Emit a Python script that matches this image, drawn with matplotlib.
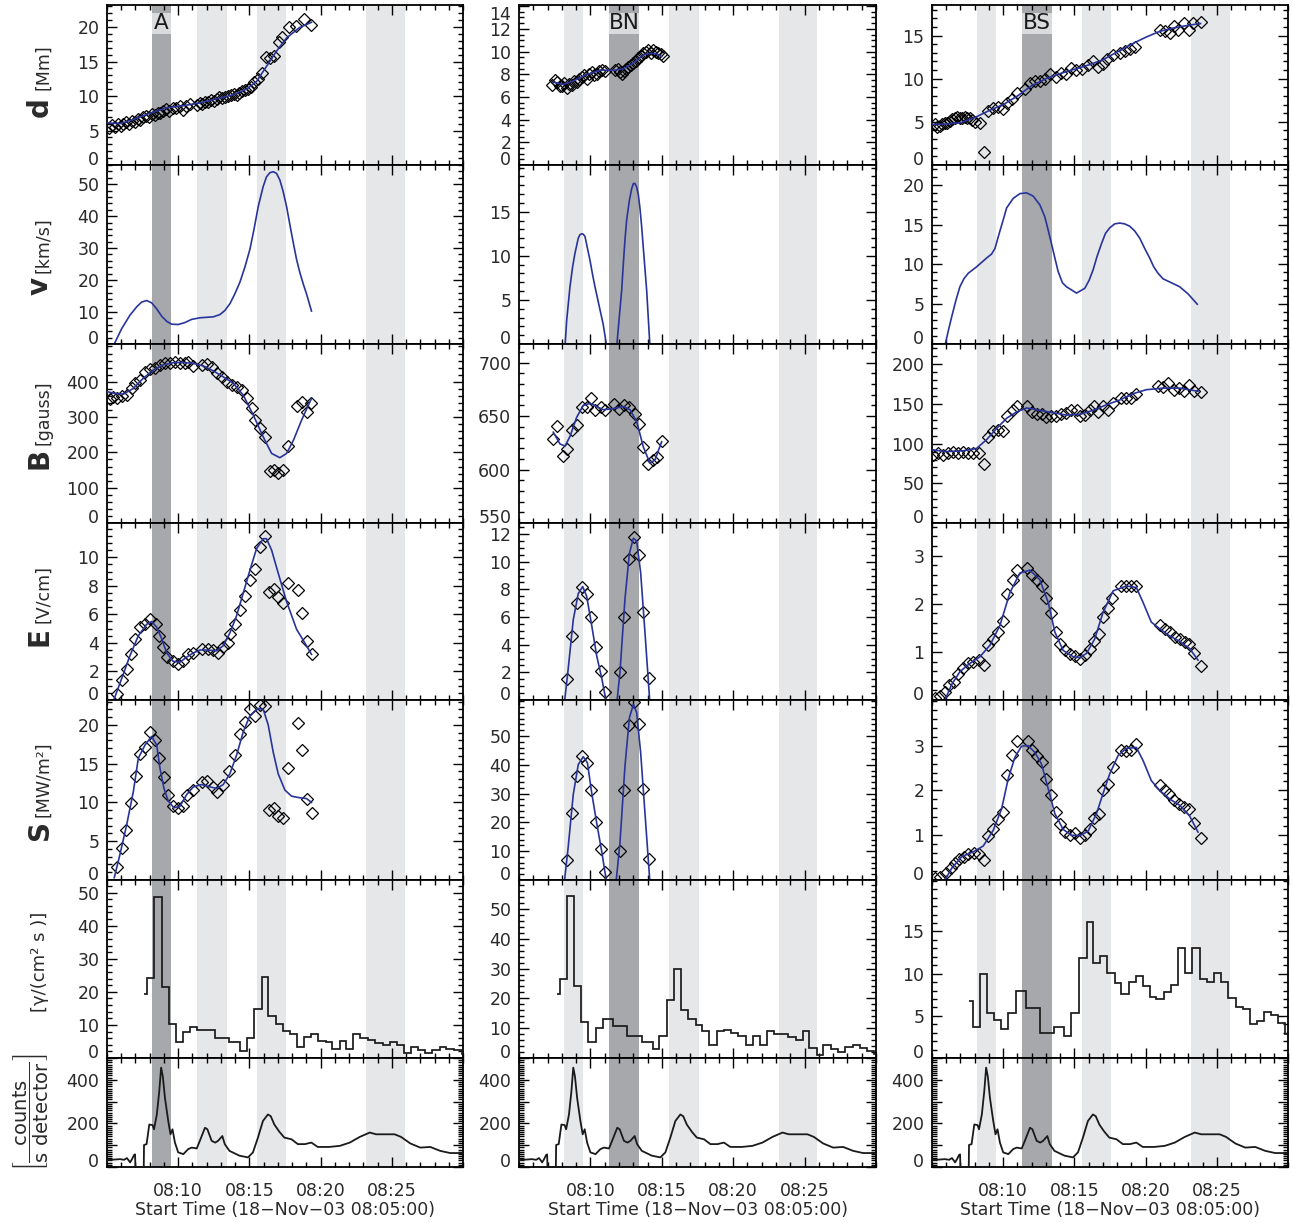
import matplotlib
matplotlib.use('Agg')
import matplotlib.pyplot as plt
from matplotlib.ticker import MultipleLocator, FixedLocator
from matplotlib.patches import Rectangle

############################# Data #############################
# time axis: minutes after 08:05:00

# shaded intervals (same for all columns); index of the dark one per column
bands = [(3.15, 4.5), (6.3, 8.4), (10.5, 12.6), (18.2, 20.9)]
dark_band = {'A': 0, 'BN': 1, 'BS': 1}

# ---- column A ----
A_d_t = [0.15, 0.35, 0.55, 0.75, 0.95, 1.15, 1.35, 1.55, 1.75, 1.95, 2.15, 2.35, 2.55, 2.75, 2.95, 3.15,
         3.35, 3.55, 3.75, 3.95, 4.15, 4.35, 4.6, 4.85, 5.1, 5.35, 5.55, 5.8, 6.3, 6.5, 6.7, 6.9, 7.1, 7.3,
         7.5, 7.7, 7.9, 8.1, 8.3, 8.5, 8.7, 8.9, 9.1, 9.3, 9.5, 9.7, 9.9, 10.1, 10.35, 10.6, 10.9, 11.2,
         11.45, 11.75, 12.1, 12.3, 12.8, 13.3, 13.85, 14.3]
A_d = [5.4, 5.8, 5.5, 5.9, 5.6, 6.0, 6.2, 5.9, 6.4, 6.3, 6.7, 6.5, 6.9, 7.1, 7.0, 7.4, 7.2, 7.6, 7.5, 7.9,
       8.1, 7.9, 8.3, 8.2, 8.5, 8.0, 8.6, 8.8, 8.7, 9.0, 8.8, 9.1, 9.2, 9.4, 9.3, 9.6, 9.8, 9.7, 9.9, 10.0,
       10.1, 10.3, 10.2, 10.5, 10.7, 10.9, 11.0, 11.3, 12.0, 12.4, 13.4, 15.6, 15.5, 15.8, 17.9, 18.6, 20.0,
       20.1, 21.2, 20.3]
A_dfit_t = [0, 0.9, 1.85, 3.0, 4.2, 5.36, 6.5, 7.7, 8.9, 9.8, 10.5, 11.2, 11.9, 12.6, 13.5, 14.36]
A_dfit = [6.1, 6.0, 6.6, 7.5, 8.3, 8.6, 9.0, 9.6, 10.2, 11.0, 12.1, 14.3, 16.5, 18.4, 19.9, 20.7]

A_v_t = [0.51, 1.03, 1.61, 2.08, 2.43, 2.78, 3.13, 3.49, 3.84, 4.19, 4.54, 5.0, 5.47, 5.94, 6.53, 7.46,
         7.93, 8.28, 8.63, 8.98, 9.33, 9.68, 10.04, 10.32, 10.62, 10.97, 11.2, 11.44, 11.67, 11.9, 12.14,
         12.37, 12.61, 12.84, 13.08, 13.31, 13.54, 13.78, 14.01, 14.36]
A_v = [0.0, 4.8, 9.0, 11.6, 13.1, 13.6, 12.9, 11.0, 8.7, 7.1, 6.2, 6.1, 6.7, 7.7, 8.2, 8.5, 9.2, 10.5, 12.6,
       15.7, 19.3, 24.0, 29.7, 35.8, 43.0, 49.3, 52.3, 53.6, 53.9, 53.4, 51.3, 47.7, 43.0, 37.4, 31.7, 26.5,
       22.4, 18.8, 15.7, 10.3]

A_B_t = [0.21, 0.44, 0.68, 1.03, 1.38, 1.73, 1.96, 2.32, 2.67, 3.02, 3.37, 3.72, 4.07, 4.42, 4.77, 5.12,
         5.47, 5.71, 6.06, 6.64, 6.99, 7.34, 7.70, 8.05, 8.40, 8.75, 9.10, 9.45, 9.80, 10.15, 10.39, 10.74,
         11.09, 11.44, 11.72, 12.02, 12.37, 12.73, 13.31, 13.66, 14.01, 14.36]
A_B = [350, 356, 353, 360, 362, 381, 396, 405, 429, 435, 438, 448, 454, 452, 457, 454, 452, 457, 445, 448,
       451, 441, 424, 414, 400, 391, 386, 377, 353, 325, 291, 268, 244, 148, 150, 142, 150, 218, 331, 344,
       315, 339]
A_Bfit_t = [0, 0.56, 1.15, 1.85, 2.55, 3.25, 3.95, 4.65, 5.36, 6.06, 6.76, 7.46, 8.16, 8.87, 9.57, 10.27,
            10.97, 11.56, 12.14, 12.61, 13.1, 13.66, 14.36]
A_Bfit = [372, 367, 365, 381, 410, 433, 448, 454, 455, 452, 445, 431, 414, 396, 362, 306, 244, 197, 185,
          197, 235, 291, 353]

A_E_t = [0.68, 1.03, 1.38, 1.68, 1.96, 2.32, 2.67, 3.02, 3.44, 3.67, 3.95, 4.23, 4.61, 5.0, 5.36, 5.71,
         6.01, 6.64, 7.11, 7.46, 7.81, 8.16, 8.51, 8.63, 8.98, 9.33, 9.68, 10.04, 10.39, 10.74, 11.09,
         11.39, 11.72, 12.02, 12.37, 12.73, 13.38, 13.71, 14.06, 14.41]
A_E = [0.45, 1.38, 2.2, 3.2, 4.3, 5.1, 5.3, 5.7, 5.3, 4.5, 3.7, 3.0, 2.7, 2.5, 2.7, 3.2, 3.3, 3.6, 3.6,
       3.5, 3.3, 3.7, 4.0, 4.6, 5.3, 6.3, 7.3, 8.4, 9.2, 10.7, 11.5, 7.6, 7.8, 7.2, 6.8, 8.2, 7.7, 6.1,
       4.15, 3.2]
A_Efit_t = [0.51, 1.03, 1.61, 2.2, 2.78, 3.13, 3.49, 3.84, 4.19, 4.65, 5.12, 5.59, 6.06, 6.53, 7.0, 7.7,
            8.16, 8.63, 9.1, 9.57, 10.04, 10.5, 10.97, 11.2, 11.56, 12.02, 12.61, 13.31, 14.01, 14.36]
A_Efit = [0.1, 1.5, 3.1, 4.5, 5.3, 5.5, 5.1, 4.3, 3.3, 2.7, 2.65, 3.0, 3.3, 3.5, 3.5, 3.45, 3.8, 4.7, 5.9,
          7.5, 9.1, 10.6, 11.3, 11.3, 10.5, 8.9, 6.9, 4.96, 3.8, 3.2]

A_S_t = [0.68, 1.03, 1.33, 1.68, 2.01, 2.32, 2.67, 3.02, 3.37, 3.67, 4.0, 4.3, 4.61, 5.0, 5.36, 5.64,
         6.01, 6.64, 7.04, 7.42, 7.74, 8.12, 8.58, 8.98, 9.33, 9.68, 10.04, 10.39, 10.74, 11.09, 11.39,
         11.72, 12.02, 12.37, 12.73, 13.38, 13.71, 14.06, 14.41]
A_S = [1.7, 4.1, 6.5, 9.9, 13.4, 16.3, 17.1, 19.1, 18.1, 15.7, 13.3, 11.0, 9.6, 9.3, 9.5, 10.9, 11.6,
       12.6, 12.7, 12.0, 11.4, 12.3, 14.0, 16.1, 18.8, 20.4, 22.0, 21.2, 22.5, 22.4, 9.0, 9.3, 8.3, 8.0,
       14.4, 20.3, 16.7, 10.5, 8.6]
A_Sfit_t = [0.51, 0.91, 1.38, 1.85, 2.2, 2.67, 3.13, 3.49, 3.72, 4.0, 4.3, 4.7, 5.12, 5.59, 6.06, 6.64,
            7.23, 7.7, 8.16, 8.63, 9.1, 9.57, 10.04, 10.62, 10.97, 11.32, 11.67, 12.02, 12.49, 12.96,
            13.54, 14.01, 14.36]
A_Sfit = [0.3, 3.3, 7.1, 11.4, 15.7, 17.4, 18.5, 17.4, 14.4, 11.8, 10.2, 9.3, 9.5, 11.0, 12.0, 12.3,
          12.0, 11.8, 12.3, 13.7, 16.1, 19.1, 21.2, 22.1, 22.0, 20.0, 16.5, 13.7, 11.6, 10.8, 10.6, 10.5,
          10.0]

A_g_edges = [2.62, 2.83, 3.32, 3.84, 4.35, 4.84, 5.36, 5.82, 6.34, 7.58, 8.58, 9.33, 9.85, 10.34, 10.85,
             11.32, 11.86, 12.33, 12.84, 13.36, 13.82, 14.36, 14.83, 15.35, 15.8, 16.35, 16.8, 17.3, 17.8,
             18.34, 18.85, 19.35, 19.86, 20.37, 20.84, 21.33, 21.85, 22.36, 22.85, 23.37, 23.84, 24.35,
             24.9, 25.0]
A_g = [19.2, 24.1, 48.6, 21.4, 10.2, 4.7, 8.0, 9.3, 8.5, 6.1, 4.7, 2.2, 6.1, 14.7, 24.6, 12.7, 10.3, 8.2,
       7.2, 3.2, 6.2, 7.2, 5.2, 4.7, 2.7, 5.2, 2.7, 7.2, 6.1, 5.4, 4.4, 3.9, 4.9, 3.9, 1.4, 3.2, 2.4, 1.6,
       2.4, 3.4, 2.7, 2.4, 1.2]

# ---- column BN ----
BN_d_t = [2.29, 2.52, 2.68, 2.85, 2.99, 3.17, 3.34, 3.52, 3.69, 3.87, 4.04, 4.22, 4.39, 4.57, 4.74, 4.92,
          5.09, 5.27, 5.44, 5.62, 5.79, 6.02, 6.72, 6.9, 7.07, 7.21, 7.35, 7.5, 7.66, 7.84, 8.01, 8.18,
          8.36, 8.54, 8.71, 8.88, 9.06, 9.24, 9.41, 9.58, 9.76, 9.94, 10.11]
BN_d = [7.06, 7.5, 7.35, 7.0, 6.97, 7.2, 6.77, 7.1, 7.06, 7.4, 7.35, 7.6, 7.74, 7.9, 7.57, 8.0, 8.23, 7.9,
        8.03, 8.3, 8.38, 8.3, 8.38, 8.5, 8.23, 8.0, 8.3, 8.45, 8.67, 8.8, 9.02, 9.2, 9.4, 9.6, 9.9, 10.0,
        10.1, 9.9, 10.1, 9.95, 9.9, 9.8, 9.6]
BN_dfit_t = [2.4, 3.1, 3.8, 4.74, 5.67, 6.61, 7.31, 8.01, 8.71, 9.17, 9.64, 9.99]
BN_dfit = [7.3, 7.1, 7.4, 7.97, 8.35, 8.35, 8.47, 9.0, 9.7, 9.84, 9.8, 9.55]

BN_v1_t = [3.22, 3.34, 3.57, 3.76, 3.92, 4.15, 4.27, 4.39, 4.5, 4.62, 4.97, 5.16, 5.32, 5.67, 5.9, 6.14]
BN_v1 = [-0.3, 2.7, 6.5, 8.8, 10.3, 12.0, 12.4, 12.5, 12.45, 12.2, 9.5, 7.8, 6.5, 3.9, 2.2, -0.3]
BN_v2_t = [6.84, 7.19, 7.31, 7.42, 7.54, 7.73, 7.89, 8.01, 8.12, 8.24, 8.36, 8.47, 8.59, 8.71, 8.94, 9.17]
BN_v2 = [-0.3, 6.1, 9.2, 11.8, 14.1, 16.3, 17.6, 18.2, 18.2, 17.8, 16.9, 15.4, 13.3, 10.8, 6.1, -0.3]

BN_B_t = [2.36, 2.68, 3.06, 3.38, 3.69, 4.04, 4.39, 4.74, 5.02, 5.32, 5.72, 6.02, 6.65, 7.03, 7.35, 7.73,
          8.12, 8.43, 8.66, 9.06, 9.36, 9.69, 10.04]
BN_B = [629, 641, 613, 619, 637, 642, 659, 659, 667, 656, 659, 656, 661, 657, 660, 659, 652, 643, 621, 605,
        609, 612, 627]
BN_Bfit_t = [2.4, 2.87, 3.22, 3.57, 4.04, 4.5, 4.97, 5.44, 5.91, 6.61, 7.31, 7.77, 8.24, 8.71, 9.17, 9.52,
             9.99]
BN_Bfit = [635, 624, 622, 631, 649, 660, 662, 659, 656, 657, 659, 656, 645, 621, 606, 609, 626]

BN_E_t = [3.38, 3.69, 4.04, 4.39, 4.74, 5.02, 5.37, 5.72, 6.02, 7.07, 7.38, 7.73, 8.05, 8.4, 8.71, 9.1]
BN_E = [1.5, 4.6, 7.0, 8.2, 7.7, 6.0, 3.8, 2.1, 0.6, 2.0, 6.0, 10.2, 11.8, 10.5, 6.4, 1.6]
BN_Efit1_t = [3.17, 3.45, 3.8, 4.15, 4.46, 4.74, 5.09, 5.44, 5.79, 6.14]
BN_Efit1 = [-0.3, 2.3, 5.8, 7.7, 8.2, 7.5, 5.4, 3.2, 1.6, -0.3]
BN_Efit2_t = [6.84, 7.07, 7.42, 7.73, 8.01, 8.24, 8.52, 8.82, 9.17]
BN_Efit2 = [-0.3, 2.0, 7.3, 10.6, 11.7, 11.5, 9.2, 4.9, -0.3]

BN_S_t = [3.38, 3.69, 4.04, 4.39, 4.74, 5.04, 5.37, 5.72, 6.02, 7.07, 7.38, 7.73, 8.05, 8.4, 8.71, 9.1]
BN_S = [7.1, 23.1, 36.1, 43.2, 40.7, 31.4, 20.1, 10.9, 2.8, 10.0, 31.1, 53.7, 61.8, 54.3, 31.7, 7.3]
BN_Sfit1_t = [3.17, 3.45, 3.8, 4.15, 4.5, 4.79, 5.09, 5.44, 5.79, 6.14]
BN_Sfit1 = [-1, 11.7, 29.7, 40.1, 42.8, 40.7, 30.3, 19.8, 10.0, -1]
BN_Sfit2_t = [6.79, 7.07, 7.42, 7.73, 8.01, 8.24, 8.52, 8.82, 9.17]
BN_Sfit2 = [-1, 12.9, 39.5, 56.3, 61.0, 58.1, 44.2, 23.3, -1]

BN_g_edges = [2.64, 2.87, 3.34, 3.85, 4.34, 4.86, 5.37, 5.86, 6.56, 7.59, 8.59, 9.36, 9.83, 10.34, 10.85,
              11.32, 11.86, 12.37, 12.84, 13.33, 13.84, 14.36, 14.85, 15.36, 15.87, 16.36, 16.88, 17.34,
              17.88, 18.86, 19.37, 19.86, 20.31, 20.84, 21.31, 21.85, 22.36, 22.83, 23.37, 23.88, 24.39,
              24.86, 25.0]
BN_g = [21.5, 26.4, 54.5, 24.2, 12.0, 5.5, 10.2, 13.0, 10.8, 7.5, 5.5, 3.0, 7.5, 19.5, 30.0, 16.2, 13.0,
        11.0, 9.0, 4.3, 9.0, 9.5, 8.3, 7.5, 4.3, 7.5, 4.3, 9.0, 8.0, 7.0, 6.0, 9.0, 3.5, 1.0, 4.5, 3.0, 2.0,
        3.7, 4.5, 3.3, 2.5, 1.5]

# ---- column BS ----
BS_d_t = [0.21, 0.38, 0.56, 0.73, 0.91, 1.08, 1.26, 1.43, 1.61, 1.78, 1.96, 2.13, 2.31, 2.48, 2.66, 2.84,
          3.02, 3.37, 3.67, 3.95, 4.3, 4.6, 5.0, 5.24, 5.63, 6.0, 6.52, 6.87, 7.22, 7.57, 7.92, 8.27, 8.74,
          9.09, 9.44, 9.79, 10.14, 10.5, 10.96, 11.31, 11.66, 12.02, 12.32, 12.72, 13.18, 13.53, 13.89,
          14.24, 15.99, 16.34, 16.69, 16.97, 17.27, 17.67, 18.05, 18.33, 18.86]
BS_d = [4.8, 4.4, 4.5, 4.7, 4.9, 4.9, 5.1, 5.3, 5.5, 5.6, 5.4, 5.5, 5.6, 5.5, 5.4, 5.2, 5.0, 4.9, 1.56,
        6.3, 6.6, 6.7, 6.5, 7.2, 7.7, 8.4, 8.8, 9.5, 9.7, 9.7, 10.0, 10.5, 10.2, 10.7, 10.5, 11.3, 11.0,
        11.1, 11.6, 12.1, 11.4, 11.7, 12.3, 12.8, 13.0, 13.2, 13.5, 13.7, 15.6, 15.5, 15.3, 16.1, 15.7,
        16.45, 15.7, 16.45, 16.6]
BS_dfit_t = [0, 1, 2, 3, 4, 5, 6, 7, 8, 9, 10, 11, 12, 13, 14, 15, 16, 17, 18, 18.86]
BS_dfit = [4.7, 4.75, 4.9, 5.5, 6.3, 7.0, 8.0, 9.2, 10.0, 10.6, 11.1, 11.6, 12.2, 13.1, 14.0, 14.8, 15.5,
           15.9, 16.2, 16.4]

BS_v_t = [0.91, 1.15, 1.38, 1.68, 1.96, 2.24, 2.55, 3.13, 3.83, 4.18, 4.42, 4.72, 5.0, 5.24, 5.7, 6.17, 6.64,
          7.1, 7.57, 7.92, 8.16, 8.39, 8.63, 8.86, 9.16, 9.44, 10.15, 10.73, 11.03, 11.31, 11.59, 11.9,
          12.18, 12.48, 12.83, 13.18, 13.53, 13.89, 14.24, 14.59, 14.94, 15.29, 15.57, 15.87, 16.22, 16.69,
          17.39, 17.98, 18.63]
BS_v = [-0.2, 1.7, 3.4, 5.5, 7.2, 8.2, 8.9, 9.7, 10.8, 11.3, 12.0, 13.9, 15.6, 17.1, 18.3, 18.9, 19.0, 18.6,
        17.5, 16.0, 14.3, 12.6, 10.8, 9.1, 7.7, 7.2, 6.4, 7.0, 8.0, 9.3, 11.0, 12.6, 13.9, 14.6, 15.1, 15.2,
        15.1, 14.8, 14.2, 13.3, 12.0, 10.8, 9.7, 8.9, 8.2, 7.8, 7.2, 6.3, 5.0]

BS_B_t = [0.09, 0.44, 0.79, 1.15, 1.5, 1.85, 2.2, 2.55, 2.9, 3.32, 3.65, 3.95, 4.3, 4.65, 5.0, 5.28, 5.66,
          5.98, 6.64, 6.99, 7.34, 7.69, 8.04, 8.39, 8.74, 9.09, 9.44, 9.79, 10.15, 10.38, 10.73, 11.08,
          11.36, 11.66, 12.01, 12.37, 12.72, 13.3, 13.65, 14.0, 14.35, 15.87, 16.22, 16.57, 16.97, 17.34,
          17.67, 18.05, 18.37, 18.86]
BS_B = [86, 88, 86, 88, 89, 88, 89, 88, 88, 88, 74, 108, 116, 117, 116, 135, 142, 147, 147, 140, 138, 137,
        134, 135, 135, 138, 139, 142, 142, 135, 136, 142, 147, 140, 147, 142, 151, 157, 157, 158, 163, 173,
        172, 176, 168, 170, 166, 174, 166, 165]
BS_Bfit_t = [0, 1.03, 2.2, 3.13, 3.83, 4.53, 5.24, 5.94, 6.64, 7.57, 8.51, 9.44, 10.38, 11.31, 12.25, 13.18,
             14.12, 15.05, 16.22, 17.39, 18.68]
BS_Bfit = [92, 90, 91, 94, 105, 119, 132, 140, 145, 142, 139, 136, 137, 142, 149, 155, 163, 168, 170, 170,
           166]

BS_E_t = [0.21, 0.56, 0.91, 1.22, 1.54, 1.85, 2.2, 2.55, 2.9, 3.32, 3.65, 3.95, 4.3, 4.65, 4.96, 5.28,
          5.66, 5.98, 6.69, 6.99, 7.34, 7.69, 8.04, 8.39, 8.7, 9.02, 9.33, 9.68, 10.03, 10.38, 10.73, 11.08,
          11.38, 11.71, 12.01, 12.37, 12.67, 13.3, 13.65, 14.0, 14.35, 16.04, 16.34, 16.69, 17.04, 17.39,
          17.74, 18.05, 18.37, 18.86]
BS_E = [0.04, 0.08, 0.16, 0.32, 0.38, 0.55, 0.66, 0.76, 0.79, 0.83, 0.73, 1.15, 1.27, 1.42, 1.65, 2.2, 2.5,
        2.7, 2.75, 2.6, 2.5, 2.38, 2.13, 1.81, 1.42, 1.17, 1.03, 0.95, 0.92, 0.86, 0.93, 1.07, 1.22, 1.38,
        1.72, 1.92, 2.13, 2.37, 2.37, 2.37, 2.37, 1.56, 1.48, 1.41, 1.31, 1.27, 1.2, 1.17, 0.97, 0.71]
BS_Efit_t = [0.91, 1.38, 1.96, 2.66, 3.37, 4.07, 4.77, 5.47, 6.17, 6.87, 7.57, 8.16, 8.63, 9.21, 9.91, 10.38,
             10.85, 11.43, 12.01, 12.72, 13.65, 14.35, 14.82, 15.4, 15.99, 16.69, 17.39, 18.09, 18.68]
BS_Efit = [0, 0.32, 0.59, 0.76, 0.9, 1.14, 1.55, 2.23, 2.64, 2.7, 2.5, 2.03, 1.41, 1.03, 0.9, 0.88, 0.97,
           1.27, 1.82, 2.27, 2.37, 2.34, 2.03, 1.62, 1.48, 1.33, 1.22, 1.07, 0.83]

BS_S_t = [0.21, 0.56, 0.98, 1.31, 1.61, 1.92, 2.24, 2.55, 2.95, 3.32, 3.65, 3.95, 4.3, 4.65, 5.0, 5.28,
          5.63, 5.94, 6.71, 7.04, 7.34, 7.69, 7.99, 8.35, 8.7, 9.02, 9.35, 9.68, 10.03, 10.38, 10.73, 11.08,
          11.38, 11.73, 12.01, 12.37, 12.72, 13.3, 13.65, 14.0, 14.35, 15.99, 16.34, 16.64, 16.97, 17.34,
          17.67, 18.05, 18.37, 18.86]
BS_S = [0.05, 0.07, 0.15, 0.26, 0.39, 0.48, 0.52, 0.57, 0.61, 0.59, 0.44, 0.99, 1.15, 1.36, 1.52, 2.35,
        2.79, 3.11, 3.11, 2.91, 2.78, 2.63, 2.26, 1.89, 1.52, 1.24, 1.07, 1.01, 1.04, 0.94, 1.0, 1.15, 1.39,
        1.48, 2.0, 2.15, 2.52, 2.91, 2.89, 2.91, 3.04, 2.13, 2.02, 1.93, 1.78, 1.7, 1.63, 1.58, 1.28, 0.93]
BS_Sfit_t = [0.91, 1.38, 2.08, 2.9, 3.6, 4.3, 4.89, 5.35, 5.82, 6.29, 6.76, 7.22, 7.69, 8.16, 8.63, 9.21,
             9.79, 10.38, 10.96, 11.55, 12.01, 12.48, 13.07, 13.65, 14.35, 14.82, 15.4, 15.99, 16.69, 17.39,
             18.09, 18.68]
BS_Sfit = [0, 0.26, 0.52, 0.63, 0.76, 1.11, 1.59, 2.26, 2.74, 2.99, 3.0, 2.85, 2.59, 2.04, 1.48, 1.13, 1.0,
           0.99, 1.09, 1.48, 1.93, 2.37, 2.78, 2.94, 2.96, 2.67, 2.22, 2.0, 1.81, 1.67, 1.43, 1.07]

BS_g_edges = [2.62, 2.85, 3.37, 3.83, 4.35, 4.82, 5.35, 5.87, 6.59, 7.57, 8.58, 9.28, 9.79, 10.33, 10.85,
              11.31, 11.83, 12.32, 12.83, 13.3, 13.81, 14.3, 14.82, 15.29, 15.75, 16.29, 16.76, 17.27,
              17.79, 18.28, 18.79, 19.31, 19.8, 20.31, 20.78, 21.32, 21.83, 22.3, 22.84, 23.3, 23.82,
              24.33, 24.82, 25.0]
BS_g = [6.8, 3.7, 10.0, 5.3, 4.5, 3.4, 5.3, 7.9, 5.9, 3.0, 3.7, 2.6, 5.3, 11.9, 16.1, 11.3, 12.1, 10.1,
        8.9, 7.6, 9.0, 9.7, 8.5, 7.2, 7.0, 7.8, 8.6, 13.0, 10.1, 13.0, 9.4, 9.0, 10.1, 9.0, 7.1, 6.0, 5.8,
        4.0, 4.4, 5.5, 5.1, 4.2, 2.8]

# ---- count rate (same in all columns) ----
cnt_t = [0, 0.5, 0.9, 1.2, 1.4, 1.55, 1.62, 1.75, 1.9, 1.97, 2.0, 2.58, 2.6, 2.78, 2.97, 3.2, 3.3, 3.5,
         3.67, 3.8, 3.92, 4.07, 4.3, 4.46, 4.6, 4.77, 5.0, 5.36, 5.7, 5.95, 6.3, 6.52, 6.88, 7.05, 7.35,
         7.6, 7.8, 8.1, 8.27, 8.6, 9.3, 9.9, 10.25, 10.6, 10.95, 11.3, 11.5, 11.75, 12.1, 12.45, 12.96,
         13.4, 13.9, 14.35, 14.8, 15.6, 16.35, 17.05, 17.75, 18.45, 18.9, 19.4, 20.2, 20.65, 21.3, 22.0,
         22.7, 23.4, 24.1, 24.9, 25.0]
cnt = [32, 34, 36, 33, 41, 28, 21, 35, 55, 58, -10, -10, 101, 105, 195, 192, 173, 241, 347, 456, 415, 317,
       211, 150, 173, 112, 67, 59, 82, 89, 85, 120, 180, 173, 120, 112, 120, 142, 105, 74, 52, 44, 67, 135,
       211, 241, 233, 195, 162, 135, 127, 105, 105, 112, 92, 92, 97, 112, 138, 158, 150, 150, 150, 138, 108,
       89, 92, 74, 64, 64, 62]

############################# Layout #############################

W, H = 1293, 1223
col_x = [(107, 463), (519, 876), (932, 1288)]
row_y = [5, 165, 344, 523, 700, 880, 1058, 1167]

DARK = '#a7a8ac'
LIGHT = '#e6e7e9'
BLUE = '#28349a'
TXT = '#2a2a2a'

plt.rcParams['font.family'] = 'DejaVu Sans'
plt.rcParams['mathtext.fontset'] = 'dejavusans'

fig = plt.figure(figsize=(W / 100, H / 100), dpi=100)


def add_ax(c, r):
    x0, x1 = col_x[c]
    y0, y1 = row_y[r], row_y[r + 1]
    return fig.add_axes([x0 / W, 1 - y1 / H, (x1 - x0) / W, (y1 - y0) / H])


def style(ax, name, ylim, ticks, minor, shown=None, top_shift=False, bottom_row=False):
    for i, (lo, hi) in enumerate(bands):
        ax.axvspan(lo, hi, color=DARK if i == dark_band[name] else LIGHT, lw=0, zorder=0)
    ax.set_xlim(0, 25)
    labels = [str(t) if (shown is None or t in shown) else '' for t in ticks]
    ax.set_yticks(ticks, labels)
    ax.set_ylim(*ylim)
    ax.yaxis.set_minor_locator(MultipleLocator(minor))
    ax.xaxis.set_major_locator(FixedLocator([5, 10, 15, 20]))
    ax.xaxis.set_minor_locator(MultipleLocator(1))
    ax.tick_params(which='both', direction='in', top=True, right=True, width=1.0, colors='black',
                   labelcolor=TXT, labelsize=12.5)
    ax.tick_params(which='major', length=7)
    ax.tick_params(which='minor', length=3.5)
    ax.tick_params(axis='y', pad=5.5)
    ax.tick_params(axis='x', pad=10.5)
    for sp in ax.spines.values():
        sp.set_linewidth(1.3)
    # IDL-like: lowest label lifted off the panel edge, top one pushed down when crowded
    yt = ax.yaxis.get_major_ticks()
    yt[0].label1.set_verticalalignment('baseline')
    if top_shift:
        yt[-1].label1.set_verticalalignment('top')
    if bottom_row:
        ax.set_xticklabels(['08:10', '08:15', '08:20', '08:25'])
        ax.text(0.5, -0.395, 'Start Time (18\u2212Nov\u221203 08:05:00)', transform=ax.transAxes,
                ha='center', va='center', fontsize=12.5, color=TXT)
    else:
        ax.set_xticklabels([])


def points(ax, t, v):
    ax.plot(t, v, ls='none', marker='D', ms=6.2, mfc='none', mec='black', mew=0.9, zorder=3)


def fit(ax, t, v):
    ax.plot(t, v, color=BLUE, lw=1.2, zorder=4)


def tag(ax, name, label):
    lo, hi = bands[dark_band[name]]
    ax.add_patch(Rectangle((lo, 0.819), hi - lo, 0.131, transform=ax.get_xaxis_transform(),
                           facecolor='#dadbdd', edgecolor='none', zorder=1))
    ax.text((lo + hi) / 2, 0.885, label, transform=ax.get_xaxis_transform(), ha='center', va='center',
            fontsize=15.5, color='#1a1a1a', zorder=5)


columns = [
    dict(name='A',
         d=(A_d_t, A_d, [(A_dfit_t, A_dfit)]), v=[(A_v_t, A_v)],
         B=(A_B_t, A_B, [(A_Bfit_t, A_Bfit)]), E=(A_E_t, A_E, [(A_Efit_t, A_Efit)]),
         S=(A_S_t, A_S, [(A_Sfit_t, A_Sfit)]), g=(A_g_edges, A_g),
         ax_d=((0, 23.2), [0, 5, 10, 15, 20], 1, False), ax_v=((0, 56), [0, 10, 20, 30, 40, 50], 2),
         ax_B=((0, 507), [0, 100, 200, 300, 400], 20), ax_E=((0, 12.4), [0, 2, 4, 6, 8, 10], 0.5),
         ax_S=((0, 23.2), [0, 5, 10, 15, 20], 1), ax_g=((0, 53.8), [0, 10, 20, 30, 40, 50], 2)),
    dict(name='BN',
         d=(BN_d_t, BN_d, [(BN_dfit_t, BN_dfit)]), v=[(BN_v1_t, BN_v1), (BN_v2_t, BN_v2)],
         B=(BN_B_t, BN_B, [(BN_Bfit_t, BN_Bfit)]),
         E=(BN_E_t, BN_E, [(BN_Efit1_t, BN_Efit1), (BN_Efit2_t, BN_Efit2)]),
         S=(BN_S_t, BN_S, [(BN_Sfit1_t, BN_Sfit1), (BN_Sfit2_t, BN_Sfit2)]), g=(BN_g_edges, BN_g),
         ax_d=((0, 14.1), [0, 2, 4, 6, 8, 10, 12, 14], 0.5, True), ax_v=((0, 20.3), [0, 5, 10, 15], 1),
         ax_B=((550, 717.5), [550, 600, 650, 700], 10), ax_E=((0, 12.8), [0, 2, 4, 6, 8, 10, 12], 0.5),
         ax_S=((0, 62.5), [0, 10, 20, 30, 40, 50], 2), ax_g=((0, 59.7), [0, 10, 20, 30, 40, 50], 2)),
    dict(name='BS',
         d=(BS_d_t, BS_d, [(BS_dfit_t, BS_dfit)]), v=[(BS_v_t, BS_v)],
         B=(BS_B_t, BS_B, [(BS_Bfit_t, BS_Bfit)]), E=(BS_E_t, BS_E, [(BS_Efit_t, BS_Efit)]),
         S=(BS_S_t, BS_S, [(BS_Sfit_t, BS_Sfit)]), g=(BS_g_edges, BS_g),
         ax_d=((0, 18.55), [0, 5, 10, 15], 1, False), ax_v=((0, 22.5), [0, 5, 10, 15, 20], 1),
         ax_B=((0, 225.6), [0, 50, 100, 150, 200], 10), ax_E=((0, 3.68), [0, 1, 2, 3], 0.2),
         ax_S=((0, 4.02), [0, 1, 2, 3], 0.2), ax_g=((0, 21.1), [0, 5, 10, 15], 1)),
]

for c, col in enumerate(columns):
    name = col['name']
    # distance
    ax = add_ax(c, 0)
    ylim, ticks, minor, tshift = col['ax_d']
    style(ax, name, ylim, ticks, minor, top_shift=tshift)
    t, v, fits = col['d']
    points(ax, t, v)
    for ft, fv in fits:
        fit(ax, ft, fv)
    tag(ax, name, name)
    # velocity
    ax = add_ax(c, 1)
    style(ax, name, *col['ax_v'])
    for ft, fv in col['v']:
        fit(ax, ft, fv)
    # B, E, S
    for r, key in [(2, 'B'), (3, 'E'), (4, 'S')]:
        ax = add_ax(c, r)
        style(ax, name, *col['ax_' + key])
        t, v, fits = col[key]
        points(ax, t, v)
        for ft, fv in fits:
            fit(ax, ft, fv)
    # gamma-ray flux
    ax = add_ax(c, 5)
    style(ax, name, *col['ax_g'])
    edges, vals = col['g']
    ax.stairs(vals, edges, baseline=None, color='#1a1a1a', lw=1.25, zorder=3)
    # count rate
    ax = add_ax(c, 6)
    style(ax, name, (0, 500), [0, 100, 200, 300, 400, 500], 10, shown=[0, 200, 400], bottom_row=True)
    ax.plot(cnt_t, cnt, color='#1a1a1a', lw=1.3, zorder=3)

# y labels (left column only)
ylabs = [('d', '[Mm]', 97, 90), ('v', '[km/s]', 277, 273), ('B', '[gauss]', 448, 445),
         ('E', '[V/cm]', 627, 623), ('S', '[MW/m\u00b2]', 820, 817)]
for big, unit, yb, yu in ylabs:
    fig.text(48 / W, 1 - yb / H, big, rotation=90, rotation_mode='anchor', ha='right', va='baseline',
             fontsize=20, fontweight='bold', color=TXT)
    fig.text(48 / W, 1 - yu / H, unit, rotation=90, rotation_mode='anchor', ha='left', va='baseline',
             fontsize=12.5, color=TXT)
fig.text(40 / W, 1 - 962 / H, '[\u03b3/(cm\u00b2 s )]', rotation=90, ha='center', va='center',
         fontsize=13, color=TXT)
fig.text(31 / W, 1 - 1112 / H, r'$\left[\dfrac{\mathregular{counts}}{\mathregular{s\ detector}}\right]$',
         rotation=90, ha='center', va='center', fontsize=14, color=TXT)

fig.savefig('out.png', dpi=100)
